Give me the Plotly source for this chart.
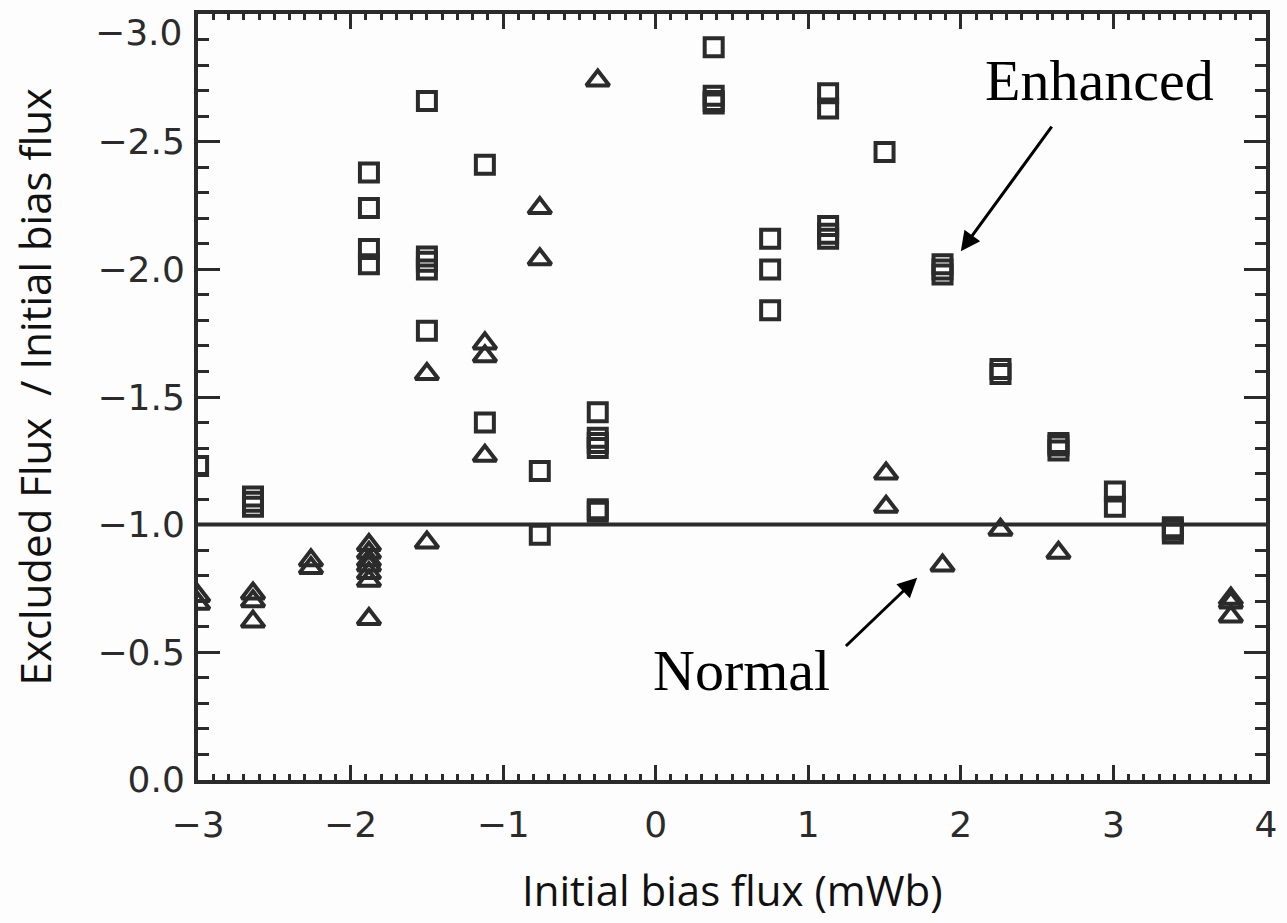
import plotly.graph_objects as go

# Enhanced (squares)
enh_x = [-3.0,
         -2.64, -2.64, -2.64,
         -1.88, -1.88, -1.88, -1.88,
         -1.50, -1.50, -1.50, -1.50, -1.50,
         -1.12, -1.12,
         -0.76, -0.76,
         -0.38, -0.38, -0.38, -0.38, -0.38, -0.38,
         0.38, 0.38, 0.38, 0.38,
         0.75, 0.75, 0.75,
         1.13, 1.13, 1.13, 1.13, 1.13,
         1.50,
         1.88, 1.88, 1.88,
         2.26, 2.26,
         2.64, 2.64, 2.64,
         3.01, 3.01,
         3.39, 3.39, 3.39]
enh_y = [-1.23,
         -1.11, -1.09, -1.07,
         -2.38, -2.24, -2.08, -2.02,
         -2.66, -2.05, -2.03, -2.00, -1.76,
         -2.41, -1.40,
         -1.21, -0.96,
         -1.44, -1.34, -1.32, -1.30, -1.06, -1.05,
         -2.87, -2.68, -2.66, -2.65,
         -2.12, -2.00, -1.84,
         -2.69, -2.63, -2.17, -2.14, -2.12,
         -2.46,
         -2.02, -2.00, -1.98,
         -1.61, -1.59,
         -1.32, -1.31, -1.29,
         -1.13, -1.07,
         -0.99, -0.98, -0.965]

# Normal (triangles)
nor_x = [-3.0, -3.0,
         -2.64, -2.64, -2.64,
         -2.26, -2.26,
         -1.88, -1.88, -1.88, -1.88, -1.88, -1.88, -1.88,
         -1.50, -1.50,
         -1.12, -1.12, -1.12,
         -0.76, -0.76,
         -0.38,
         1.51, 1.51,
         1.88,
         2.26,
         2.64,
         3.77, 3.77, 3.77]
nor_y = [-0.72, -0.69,
         -0.73, -0.70, -0.62,
         -0.86, -0.83,
         -0.92, -0.89, -0.86, -0.84, -0.81, -0.78, -0.63,
         -1.59, -0.93,
         -1.71, -1.66, -1.27,
         -2.24, -2.04,
         -2.74,
         -1.20, -1.07,
         -0.84,
         -0.98,
         -0.89,
         -0.71, -0.695, -0.64]

ref_x = [-3, 4]
ref_y = [-1.0, -1.0]

x_ticks = [-3, -2, -1, 0, 1, 2, 3, 4]
y_ticks = [0.0, -0.5, -1.0, -1.5, -2.0, -2.5, -3.0]
y_ticktext = ["0.0", "\u22120.5", "\u22121.0", "\u22121.5", "\u22122.0", "\u22122.5", ""]
top_label = "\u22123.0"

x_title = "Initial bias flux (mWb)"
y_title = "Excluded Flux  / Initial bias flux"

INK = "#2b2b2b"
TICKFONT = dict(family="DejaVu Sans", size=36, color=INK)
TITLEFONT = dict(family="Open Sans", size=42, color="#111")

fig = go.Figure()
fig.add_trace(go.Scatter(x=ref_x, y=ref_y, mode="lines",
                         line=dict(color=INK, width=4), showlegend=False, hoverinfo="skip"))
fig.add_trace(go.Scatter(x=enh_x, y=enh_y, mode="markers", name="Enhanced",
                         marker=dict(symbol="square-open", size=18, color=INK,
                                     line=dict(color=INK, width=4)),
                         showlegend=False))
fig.add_trace(go.Scatter(x=nor_x, y=nor_y, mode="markers", name="Normal",
                         marker=dict(symbol="triangle-up-open", size=20, color=INK,
                                     line=dict(color=INK, width=4)),
                         showlegend=False))

axis_common = dict(showgrid=False, zeroline=False, showline=True, linecolor=INK, linewidth=4,
                   mirror="allticks", ticks="inside", tickcolor=INK, tickwidth=3,
                   tickfont=TICKFONT)

fig.update_xaxes(range=[-3.0005, 4.0005], tickvals=x_ticks, ticklen=15,
                 minor=dict(ticks="inside", dtick=0.1, ticklen=6, tickwidth=3, tickcolor=INK),
                 ticklabelstandoff=10,
                 **axis_common)
fig.update_yaxes(range=[0.0005, -3.0005], tickvals=y_ticks, ticktext=y_ticktext, ticklen=22,
                 minor=dict(ticks="inside", dtick=0.1, ticklen=11, tickwidth=3, tickcolor=INK),
                 ticklabelstandoff=2,
                 **axis_common)

# axis titles
fig.add_annotation(x=0.5, y=-(890 - 780) / 770, xref="paper", yref="paper",
                   text=x_title, showarrow=False, xanchor="center", yanchor="middle",
                   font=TITLEFONT)
fig.add_annotation(x=(33 - 198) / 1077, y=(780 - 385) / 770, xref="paper", yref="paper",
                   text=y_title, textangle=-90, showarrow=False,
                   xanchor="center", yanchor="middle", font=TITLEFONT)
# top tick label (sits just inside the figure edge)
fig.add_annotation(x=(184 - 198) / 1077, y=(780 - 29) / 770, xref="paper", yref="paper",
                   text=top_label, showarrow=False, xanchor="right", yanchor="middle",
                   font=TICKFONT)

fig.add_annotation(x=2.91, y=-2.74, xref="x", yref="y", text="Enhanced", showarrow=False,
                   font=dict(family="Liberation Serif", size=58, color="black"))
fig.add_annotation(x=0.565, y=-0.43, xref="x", yref="y", text="Normal", showarrow=False,
                   font=dict(family="Liberation Serif", size=58, color="black"))
fig.add_annotation(x=2.0, y=-2.071, ax=2.603, ay=-2.565, xref="x", yref="y", axref="x", ayref="y",
                   text="", showarrow=True, arrowhead=2, arrowsize=1.3, arrowwidth=3, arrowcolor="black",
                   standoff=0)
fig.add_annotation(x=1.714, y=-0.792, ax=1.237, ay=-0.519, xref="x", yref="y", axref="x", ayref="y",
                   text="", showarrow=True, arrowhead=2, arrowsize=1.3, arrowwidth=3, arrowcolor="black",
                   standoff=0)

fig.update_layout(width=1287, height=923, margin=dict(l=198, r=12, t=10, b=143),
                  paper_bgcolor="#fdfdfd", plot_bgcolor="#fdfdfd")

fig.write_html("out.html")
